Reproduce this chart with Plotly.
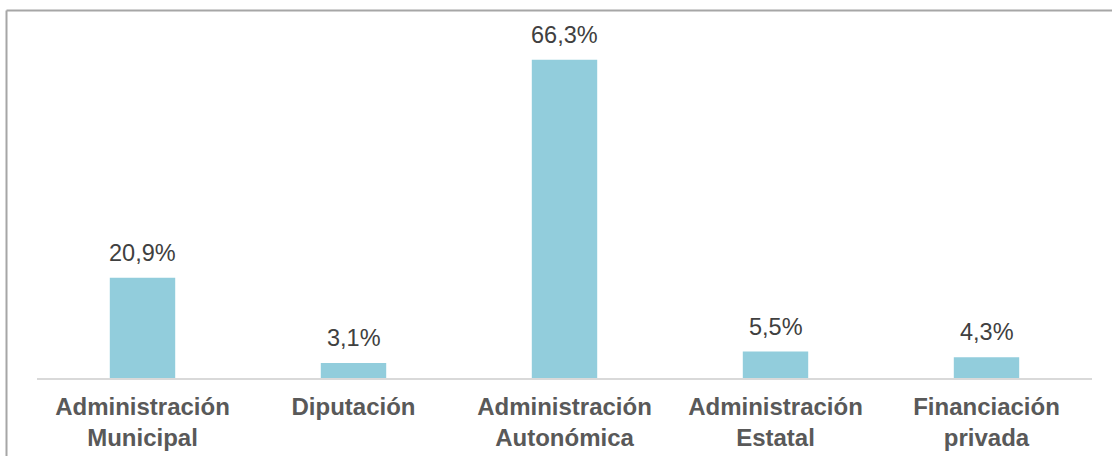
import plotly.graph_objects as go

categories = ["Administración<br>Municipal", "Diputación", "Administración<br>Autonómica",
              "Administración<br>Estatal", "Financiación<br>privada"]
values = [20.9, 3.1, 66.3, 5.5, 4.3]
labels = ["20,9%", "3,1%", "66,3%", "5,5%", "4,3%"]

W, H = 1113, 456
ML, MR, MT, MB = 37, 21, 18, 78
PW = W - ML - MR
PH = H - MT - MB

def px_x(x):
    return (x - ML) / PW

def px_y(y):
    return (H - MB - y) / PH

fig = go.Figure()
fig.add_trace(go.Bar(
    x=categories, y=values,
    marker=dict(color="#92CDDC", line=dict(width=0)),
    hoverinfo="skip",
))

for c, v, t in zip(categories, values, labels):
    fig.add_annotation(x=c, y=v, text=t, showarrow=False, yanchor="bottom",
                       yshift=10, font=dict(family="Liberation Sans, Arial", size=23.5, color="#404040"))

border = "#A6A6A6"
fig.add_shape(type="line", xref="paper", yref="paper",
              x0=px_x(6.5), x1=px_x(1112), y0=px_y(10.5), y1=px_y(10.5),
              line=dict(color=border, width=2))
fig.add_shape(type="line", xref="paper", yref="paper",
              x0=px_x(6.5), x1=px_x(6.5), y0=px_y(10.5), y1=px_y(460),
              line=dict(color=border, width=2))

fig.update_layout(
    width=W, height=H,
    margin=dict(l=ML, r=MR, t=MT, b=MB, autoexpand=False),
    paper_bgcolor="white", plot_bgcolor="white",
    bargap=0.69,
    showlegend=False,
    font=dict(family="Liberation Sans, Arial", color="#595959"),
    xaxis=dict(showline=True, linecolor="#D9D9D9", linewidth=2, ticks="",
               showgrid=False, zeroline=False, ticklabelstandoff=6, automargin=False,
               tickfont=dict(family="Liberation Sans, Arial", size=24, color="#595959", weight="bold")),
    yaxis=dict(range=[0, 75], visible=False, showgrid=False, zeroline=False, automargin=False),
)

fig.write_html("out.html", config={"displayModeBar": False},
               post_script="document.body.style.margin='0';document.body.style.overflow='hidden';")
